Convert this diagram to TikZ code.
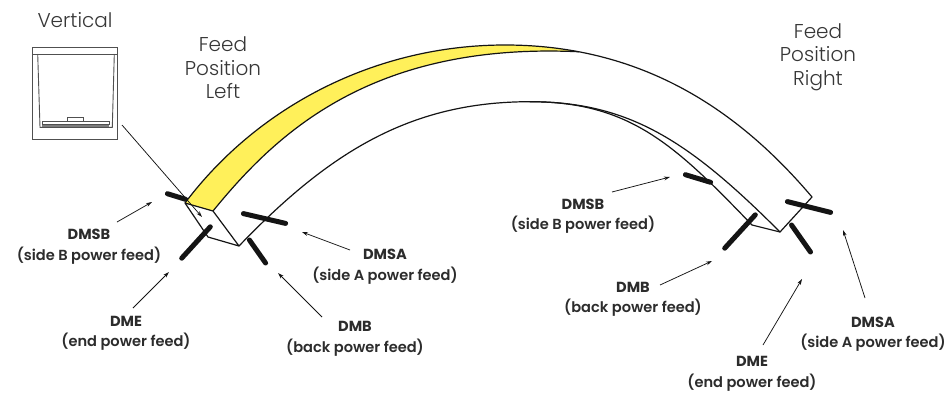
\documentclass[tikz,border=0pt]{standalone}
\usepackage{fontspec}
\setmainfont{Poppins}
\newfontfamily\lightfont{Poppins Light}
\newfontfamily\medfont{Poppins SemiBold}
\usetikzlibrary{arrows.meta}
\definecolor{barY}{RGB}{255,240,90}
\definecolor{ink}{RGB}{20,20,20}
\definecolor{iconink}{RGB}{80,80,80}
\begin{document}
\begin{tikzpicture}[x=1pt,y=-1pt,
  edge/.style={draw=ink, line width=1.2pt, line join=round, line cap=round},
  feedbar/.style={draw=ink, line width=5pt, line cap=round},
  callout/.style={draw=ink, line width=0.75pt, -{Stealth[length=6pt,width=3.8pt]}},
  lbl/.style={align=center, text=ink!90, font=\fontsize{14.6}{20.5}\selectfont\medfont, inner sep=0pt},
  ttl/.style={align=center, text=ink!85, font=\fontsize{20}{23.5}\selectfont\lightfont, inner sep=0pt},
  icon/.style={draw=iconink, line width=0.9pt}]
\useasboundingbox[fill=white] (0,0) rectangle (947,394);

% ---- bar geometry
\coordinate (A) at (185,203);
\coordinate (B) at (213,211);
\coordinate (C) at (239,246);
\coordinate (D) at (208,237);
\coordinate (Top) at (505,45);
\coordinate (S) at (578.6,51.74);
\coordinate (R3) at (812,197);
\coordinate (Apx) at (530,101.7);
\coordinate (R2) at (780,232);
\coordinate (R1) at (752,225);

\fill[barY] (A) .. controls (258,106) and (376,45) .. (Top)
  .. controls (531.1,45) and (555.6,47.37) .. (S)
  .. controls (370,42) and (275,135) .. (B) -- cycle;
\draw[edge] (A) .. controls (258,106) and (376,45) .. (Top)
  .. controls (650,45) and (745,118) .. (R3);
\draw[edge] (B) .. controls (275,135) and (370,42) .. (S);
\draw[edge] (C) .. controls (329,152.4) and (410,101.7) .. (Apx)
  .. controls (630,101.7) and (690,142) .. (R2);
\draw[edge] (Apx) .. controls (630,101.7) and (675,145) .. (R1);
\draw[edge] (R1) -- (R2) -- (R3);
\draw[edge] (D) -- (A) -- (B) -- (C) -- cycle;

% ---- feed bars
\draw[feedbar] (167.4,193.7) -- (185.6,199.3);
\draw[feedbar] (243.4,213.6) -- (285.6,223.4);
\draw[feedbar] (181.7,258.2) -- (210.3,226.8);
\draw[feedbar] (249.4,240) -- (265.6,263);
\draw[feedbar] (685.4,174.7) -- (710.6,182.3);
\draw[feedbar] (724.7,248.2) -- (755.3,214.8);
\draw[feedbar] (787.4,201.6) -- (830.6,212.4);
\draw[feedbar] (791.5,225) -- (810.5,252);

% ---- vertical icon
\draw[icon] (32.3,47.3) rectangle (117.7,139.3);
\draw[icon] (32.3,54) -- (117.7,54);
\draw[icon] (37.7,54) -- (40,127.3) -- (112.3,127.3) -- (114.3,54);
\fill[iconink!75] (42.3,124) rectangle (109,127.3);
\draw[icon, line width=0.7pt] (42.3,121.7) rectangle (109,124);
\draw[icon, line width=0.7pt] (67.7,117.3) rectangle (83.7,121.7);

% ---- titles
\node[ttl] (vert) at (75,20) {Vertical};
\node[ttl] (fpl) at (223,68) {Feed\\Position\\Left};
\node[ttl] (fpr) at (818,57) {Feed\\Position\\Right};

% ---- labels
\node[lbl] (lDMSB) at (89,246.5) {{\normalfont\bfseries DMSB}\\(side B power feed)};
\node[lbl] (lDMSA) at (385,266.5) {{\normalfont\bfseries DMSA}\\(side A power feed)};
\node[lbl] (lDME) at (126,333.5) {{\normalfont\bfseries DME}\\(end power feed)};
\node[lbl] (lDMB) at (355,339) {{\normalfont\bfseries DMB}\\(back power feed)};
\node[lbl] (rDMSB) at (583,216) {{\normalfont\bfseries DMSB}\\(side B power feed)};
\node[lbl] (rDMB) at (633,299.5) {{\normalfont\bfseries DMB}\\(back power feed)};
\node[lbl] (rDME) at (752,374) {{\normalfont\bfseries DME}\\(end power feed)};
\node[lbl] (rDMSA) at (873,334) {{\normalfont\bfseries DMSA}\\(side A power feed)};

% ---- callout ends
\coordinate (vS) at (122,125);   \coordinate (vT) at (202,217);
\coordinate (lbS) at (117,222);  \coordinate (lbT) at (152,202);
\coordinate (laS) at (350,250);  \coordinate (laT) at (302,232);
\coordinate (leS) at (133,308);  \coordinate (leT) at (169,272);
\coordinate (lkS) at (322,317);  \coordinate (lkT) at (278,273);
\coordinate (rbS) at (612,192);  \coordinate (rbT) at (670,177);
\coordinate (rkS) at (660,285);  \coordinate (rkT) at (712,261);
\coordinate (reS) at (763,345);  \coordinate (reT) at (802,279);
\coordinate (raS) at (865,298);  \coordinate (raT) at (843,230);

\draw[callout] (vS) -- (vT);
\draw[callout] (lbS) -- (lbT);
\draw[callout] (laS) -- (laT);
\draw[callout] (leS) -- (leT);
\draw[callout] (lkS) -- (lkT);
\draw[callout] (rbS) -- (rbT);
\draw[callout] (rkS) -- (rkT);
\draw[callout] (reS) -- (reT);
\draw[callout] (raS) -- (raT);
\end{tikzpicture}
\end{document}
